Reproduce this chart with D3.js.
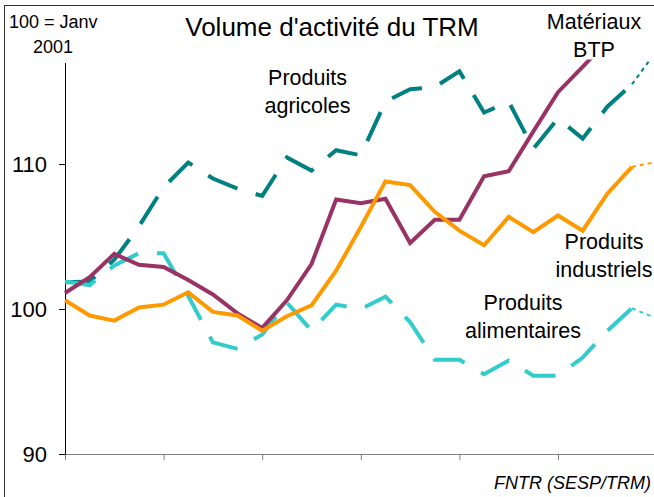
<!DOCTYPE html>
<html>
<head>
<meta charset="utf-8">
<script src="https://cdn.jsdelivr.net/npm/d3@7/dist/d3.min.js"></script>
<style>
  body { margin: 0; background: #ffffff; }
  svg text { font-family: "Liberation Sans", Arial, sans-serif; fill: #000; }
</style>
</head>
<body>
<div id="chart"></div>
<script>
// Indice 100 = janvier 2001, one value per quarter
// the last point of some series is an estimate (drawn dotted)
var agricoles    = [101.85, 101.9, 103.4, 105.7, 108.4, 110.1, 109.0, 108.3, 107.8, 110.45, 109.55, 110.95, 110.6,
                    114.3, 115.15, 115.3, 116.4, 113.55, 114.3, 111.05, 113.15, 111.75, 113.95, 115.5, 117.8];
var alimentaires = [101.9, 101.65, 103.0, 103.85, 103.85, 100.9, 97.7, 97.25, 98.25, 100.45, 98.5, 100.3, 100.0,
                    100.85, 99.1, 96.5, 96.5, 95.5, 96.45, 95.4, 95.4, 96.65, 98.5, 100.05, 99.35];
var btp          = [101.1, 102.2, 103.8, 103.05, 102.9, 102.0, 101.0, 99.7, 98.7, 100.6, 103.1, 107.55, 107.3,
                    107.6, 104.55, 106.15, 106.15, 109.15, 109.5, 112.25, 114.95, 116.7, 118.5];
var industriels  = [100.6, 99.55, 99.2, 100.1, 100.3, 101.15, 99.8, 99.55, 98.5, 99.5, 100.25, 102.65, 105.65,
                    108.8, 108.55, 106.7, 105.4, 104.4, 106.35, 105.3, 106.45, 105.4, 107.95, 109.8, 110.15];

var yTicks = [90, 100, 110];
var yearTicks = [0, 4, 8, 12, 16, 20, 24];   // one tick per year (every 4 quarters)

var width = 654, height = 497;

var svg = d3.select("#chart")
  .append("svg")
  .attr("width", width)
  .attr("height", height);

// frame around the chart
svg.append("rect")
  .attr("x", 4.5)
  .attr("y", 5.5)
  .attr("width", 700)
  .attr("height", 600)
  .attr("fill", "none")
  .attr("stroke", "#333");

// scales
var x = d3.scaleLinear()
  .domain([0, 24])
  .range([65, 656.6]);

var y = d3.scaleLinear()
  .domain([90, 117])
  .range([454, 62.5]);

// clip the lines to the plot area
svg.append("clipPath")
  .attr("id", "plotclip")
  .append("rect")
  .attr("x", 60)
  .attr("y", 59.5)
  .attr("width", 620)
  .attr("height", 400);

// X axis (no labels)
var xAxis = svg.append("g")
  .attr("transform", "translate(0," + y(90) + ")")
  .call(d3.axisBottom(x).tickValues(yearTicks).tickSize(6).tickSizeOuter(0).tickFormat(""));
xAxis.select(".domain").attr("stroke", "#808080");
xAxis.selectAll(".tick line").attr("stroke", "#808080");

// Y axis
var yAxis = svg.append("g")
  .attr("transform", "translate(" + x(0) + ",0)")
  .call(d3.axisLeft(y).tickValues(yTicks).tickSize(6).tickSizeOuter(0).tickPadding(12));
yAxis.select(".domain").attr("stroke", "#000");
yAxis.selectAll(".tick line").attr("stroke", "#000");
yAxis.selectAll("text")
  .style("font-family", "Liberation Sans, Arial, sans-serif")
  .style("font-size", "22px")
  .attr("fill", "#000");

// Lines
var line = d3.line()
  .x(function(d) { return x(d.i); })
  .y(function(d) { return y(d.v); });

var series = [
  {values: agricoles,    color: "#008080", dash: "32,19", estimate: true},
  {values: alimentaires, color: "#33CCCC", dash: "32,19", estimate: true},
  {values: btp,          color: "#993366", dash: null,    estimate: false},
  {values: industriels,  color: "#FF9900", dash: null,    estimate: true}
];

var plot = svg.append("g").attr("clip-path", "url(#plotclip)");

series.forEach(function(s) {
  var pts = s.values.map(function(v, i) { return {i: i, v: v}; });
  var main = s.estimate ? pts.slice(0, pts.length - 1) : pts;

  plot.append("path")
    .datum(main)
    .attr("d", line)
    .attr("fill", "none")
    .attr("stroke", s.color)
    .attr("stroke-width", 4)
    .attr("stroke-linejoin", "miter")
    .attr("stroke-dasharray", s.dash);

  if (s.estimate) {
    // dotted last segment = estimate
    plot.append("path")
      .datum(pts.slice(pts.length - 2))
      .attr("d", line)
      .attr("fill", "none")
      .attr("stroke", s.color)
      .attr("stroke-width", 2)
      .attr("stroke-dasharray", "4,4");
  }
});

// Title
svg.append("text")
  .attr("x", 332)
  .attr("y", 36)
  .attr("text-anchor", "middle")
  .style("font-size", "26px")
  .text("Volume d'activité du TRM");

// base note
svg.append("text")
  .attr("x", 9)
  .attr("y", 28)
  .style("font-size", "18px")
  .text("100 = Janv");
svg.append("text")
  .attr("x", 53)
  .attr("y", 53)
  .attr("text-anchor", "middle")
  .style("font-size", "18px")
  .text("2001");

// series labels
var labels = [
  {lines: ["Produits", "agricoles"],    x: 307.5, y: 85},
  {lines: ["Matériaux", "BTP"],         x: 594,   y: 29.3},
  {lines: ["Produits", "industriels"],  x: 604,   y: 249.3},
  {lines: ["Produits", "alimentaires"], x: 523,   y: 310}
];
labels.forEach(function(l) {
  l.lines.forEach(function(t, k) {
    svg.append("text")
      .attr("x", l.x)
      .attr("y", l.y + k * 28)
      .attr("text-anchor", "middle")
      .style("font-size", "21.5px")
      .text(t);
  });
});

// source
svg.append("text")
  .attr("x", 651)
  .attr("y", 489)
  .attr("text-anchor", "end")
  .style("font-size", "18px")
  .style("font-style", "italic")
  .text("FNTR (SESP/TRM)");
</script>
</body>
</html>
